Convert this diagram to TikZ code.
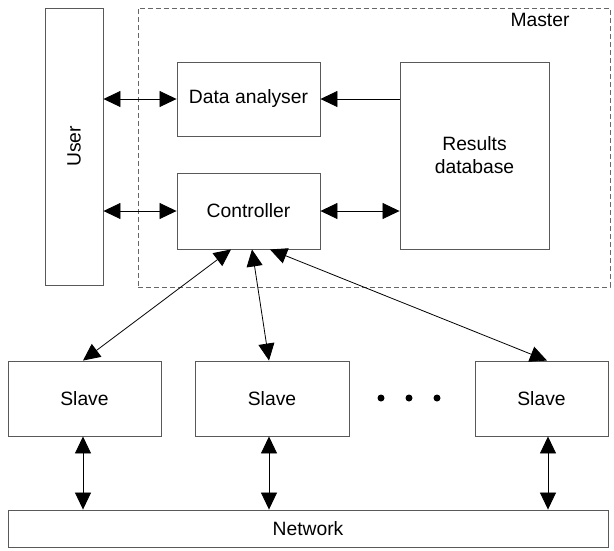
\documentclass[tikz,border=0pt]{standalone}
\usepackage{fontspec}
\setmainfont{Liberation Sans}
\usetikzlibrary{arrows.meta}
\begin{document}
\begin{tikzpicture}[x=1pt,y=-1pt,
  box/.style={draw=black!65,line width=0.9pt,rectangle,inner sep=0pt,align=center,font=\fontsize{19.3}{23}\selectfont},
  conn/.style={line width=0.8pt,{Triangle[length=17pt,width=16pt]}-{Triangle[length=17pt,width=16pt]}},
  oneway/.style={line width=0.8pt,-{Triangle[length=17pt,width=16pt]}},
  dot/.style={circle,fill=black,inner sep=0pt,minimum size=7pt}]
\useasboundingbox (0,0) rectangle (614,550);
\node[draw=black!60,dash pattern=on 5pt off 3pt,line width=0.8pt,minimum width=472pt,minimum height=279pt,inner sep=0pt] (master) at (374,147.5) {};
\node[font=\fontsize{19.3}{23}\selectfont] (mlabel) at (540,20) {Master};
\node[box,minimum width=58pt,minimum height=277pt] (user) at (74,146.5) {\rotatebox{90}{User}};
\node[box,minimum width=143pt,minimum height=74pt] (data) at (248.5,99) {Data analyser};
\node[box,minimum width=143pt,minimum height=76pt] (ctrl) at (248.5,211) {Controller};
\node[box,minimum width=149pt,minimum height=187pt] (res) at (474.5,155.5) {Results\\database};
\node[box,minimum width=153pt,minimum height=75pt] (s1) at (84.5,398.5) {Slave};
\node[box,minimum width=154pt,minimum height=75pt] (s2) at (272,398.5) {Slave};
\node[box,minimum width=133pt,minimum height=75pt] (s3) at (541.5,398.5) {Slave};
\node[box,minimum width=600pt,minimum height=37pt] (net) at (308,528.5) {Network};
\node[dot] (d1) at (381,398) {};
\node[dot] (d2) at (409,398) {};
\node[dot] (d3) at (437,398) {};
\draw[conn] (data.west -| user.east) -- (data.west);
\draw[conn] (ctrl.west -| user.east) -- (ctrl.west);
\draw[oneway] (data.east -| res.west) -- (data.east);
\draw[conn] (ctrl.east) -- (ctrl.east -| res.west);
\draw[conn] ([xshift=-17.5pt]ctrl.south) -- ([xshift=-1.5pt]s1.north);
\draw[conn] ([xshift=3.5pt]ctrl.south) -- ([xshift=-3pt]s2.north);
\draw[conn] ([xshift=21.5pt]ctrl.south) -- ([xshift=5.5pt]s3.north);
\coordinate (n1) at ([xshift=-1.5pt]s1.south |- net.north);
\coordinate (n2) at ([xshift=-3pt]s2.south |- net.north);
\coordinate (n3) at ([xshift=6.5pt]s3.south |- net.north);
\draw[conn] ([xshift=-1.5pt]s1.south) -- (n1);
\draw[conn] ([xshift=-3pt]s2.south) -- (n2);
\draw[conn] ([xshift=6.5pt]s3.south) -- (n3);
\end{tikzpicture}
\end{document}
